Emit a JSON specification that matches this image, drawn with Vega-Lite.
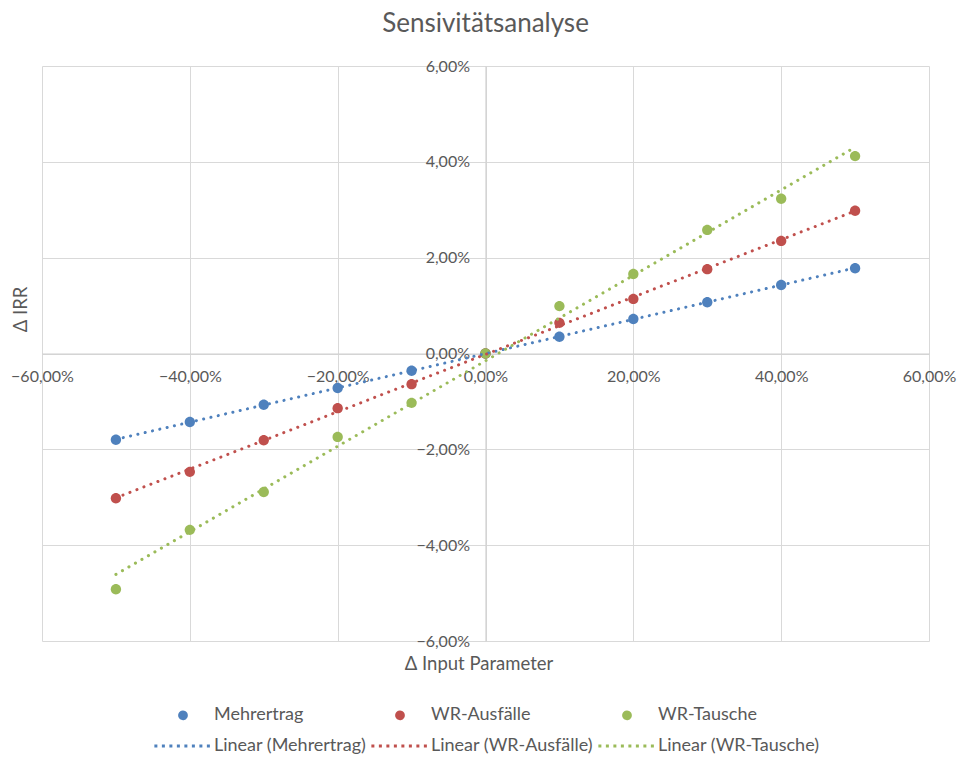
{
  "$schema": "https://vega.github.io/schema/vega-lite/v6.json",
  "width": 887,
  "height": 575,
  "autosize": {"type": "none"},
  "padding": {"left": 42, "top": 66, "right": 31, "bottom": 117},
  "background": "white",
  "title": {
    "text": "Sensivitätsanalyse",
    "font": "Lato",
    "fontSize": 26,
    "fontWeight": "normal",
    "color": "#595959",
    "anchor": "middle",
    "offset": 21
  },
  "config": {
    "locale": {
      "number": {"decimal": ",", "thousands": ".", "grouping": [3], "currency": ["", " €"]}
    },
    "view": {"stroke": null},
    "axis": {
      "grid": true,
      "gridColor": "#d9d9d9",
      "gridWidth": 1,
      "domainColor": "#d0d0d0",
      "domainWidth": 1.2,
      "ticks": false,
      "labelFont": "Lato",
      "labelFontSize": 16,
      "labelColor": "#595959",
      "labelFlush": false,
      "labelOverlap": false,
      "titleFont": "Lato",
      "titleFontSize": 18.5,
      "titleFontWeight": "normal",
      "titleColor": "#595959"
    },
    "legend": {
      "title": null,
      "orient": "none",
      "legendX": 132,
      "legendY": 640,
      "direction": "horizontal",
      "columns": 3,
      "symbolSize": 80,
      "symbolStrokeWidth": 3,
      "labelFont": "Lato",
      "labelFontSize": 18,
      "labelColor": "#595959",
      "labelOffset": 22,
      "labelLimit": 400,
      "columnPadding": -2,
      "rowPadding": 12,
      "symbolLimit": 0
    }
  },
  "data": {
    "values": [
      {"series": "Mehrertrag", "trend": "Linear (Mehrertrag)", "x": -0.5, "y": -0.0180},
      {"series": "Mehrertrag", "trend": "Linear (Mehrertrag)", "x": -0.4, "y": -0.0143},
      {"series": "Mehrertrag", "trend": "Linear (Mehrertrag)", "x": -0.3, "y": -0.0107},
      {"series": "Mehrertrag", "trend": "Linear (Mehrertrag)", "x": -0.2, "y": -0.0072},
      {"series": "Mehrertrag", "trend": "Linear (Mehrertrag)", "x": -0.1, "y": -0.0036},
      {"series": "Mehrertrag", "trend": "Linear (Mehrertrag)", "x": 0.0, "y": 0.0},
      {"series": "Mehrertrag", "trend": "Linear (Mehrertrag)", "x": 0.1, "y": 0.0035},
      {"series": "Mehrertrag", "trend": "Linear (Mehrertrag)", "x": 0.2, "y": 0.0072},
      {"series": "Mehrertrag", "trend": "Linear (Mehrertrag)", "x": 0.3, "y": 0.0107},
      {"series": "Mehrertrag", "trend": "Linear (Mehrertrag)", "x": 0.4, "y": 0.0143},
      {"series": "Mehrertrag", "trend": "Linear (Mehrertrag)", "x": 0.5, "y": 0.0178},
      {"series": "WR-Ausfälle", "trend": "Linear (WR-Ausfälle)", "x": -0.5, "y": -0.0302},
      {"series": "WR-Ausfälle", "trend": "Linear (WR-Ausfälle)", "x": -0.4, "y": -0.0247},
      {"series": "WR-Ausfälle", "trend": "Linear (WR-Ausfälle)", "x": -0.3, "y": -0.0181},
      {"series": "WR-Ausfälle", "trend": "Linear (WR-Ausfälle)", "x": -0.2, "y": -0.0114},
      {"series": "WR-Ausfälle", "trend": "Linear (WR-Ausfälle)", "x": -0.1, "y": -0.0064},
      {"series": "WR-Ausfälle", "trend": "Linear (WR-Ausfälle)", "x": 0.0, "y": 0.0},
      {"series": "WR-Ausfälle", "trend": "Linear (WR-Ausfälle)", "x": 0.1, "y": 0.0064},
      {"series": "WR-Ausfälle", "trend": "Linear (WR-Ausfälle)", "x": 0.2, "y": 0.0114},
      {"series": "WR-Ausfälle", "trend": "Linear (WR-Ausfälle)", "x": 0.3, "y": 0.0176},
      {"series": "WR-Ausfälle", "trend": "Linear (WR-Ausfälle)", "x": 0.4, "y": 0.0235},
      {"series": "WR-Ausfälle", "trend": "Linear (WR-Ausfälle)", "x": 0.5, "y": 0.0298},
      {"series": "WR-Tausche", "trend": "Linear (WR-Tausche)", "x": -0.5, "y": -0.0492},
      {"series": "WR-Tausche", "trend": "Linear (WR-Tausche)", "x": -0.4, "y": -0.0368},
      {"series": "WR-Tausche", "trend": "Linear (WR-Tausche)", "x": -0.3, "y": -0.0289},
      {"series": "WR-Tausche", "trend": "Linear (WR-Tausche)", "x": -0.2, "y": -0.0174},
      {"series": "WR-Tausche", "trend": "Linear (WR-Tausche)", "x": -0.1, "y": -0.0103},
      {"series": "WR-Tausche", "trend": "Linear (WR-Tausche)", "x": 0.0, "y": 0.0},
      {"series": "WR-Tausche", "trend": "Linear (WR-Tausche)", "x": 0.1, "y": 0.0099},
      {"series": "WR-Tausche", "trend": "Linear (WR-Tausche)", "x": 0.2, "y": 0.0166},
      {"series": "WR-Tausche", "trend": "Linear (WR-Tausche)", "x": 0.3, "y": 0.0258},
      {"series": "WR-Tausche", "trend": "Linear (WR-Tausche)", "x": 0.4, "y": 0.0323},
      {"series": "WR-Tausche", "trend": "Linear (WR-Tausche)", "x": 0.5, "y": 0.0412}
    ]
  },
  "layer": [
    {
      "mark": {"type": "point", "filled": true, "size": 190, "opacity": 1},
      "encoding": {
        "x": {
          "field": "x",
          "type": "quantitative",
          "scale": {"domain": [-0.6, 0.6], "nice": false, "zero": false},
          "axis": {
            "values": [-0.6, -0.4, -0.2, 0, 0.2, 0.4, 0.6],
            "format": ".2%",
            "offset": {"expr": "scale('y', 0) - height"},
            "labelPadding": 15,
            "title": "Δ Input Parameter",
            "titleX": {"expr": "width / 2 - 7"},
            "titleY": {"expr": "height - scale('y', 0) + 22"},
            "titleBaseline": "middle"
          }
        },
        "y": {
          "field": "y",
          "type": "quantitative",
          "scale": {"domain": [-0.06, 0.06], "nice": false, "zero": false},
          "axis": {
            "values": [-0.06, -0.04, -0.02, 0, 0.02, 0.04, 0.06],
            "format": ".2%",
            "offset": {"expr": "-scale('x', 0)"},
            "labelPadding": 16,
            "labelBaseline": "middle",
            "title": "Δ IRR",
            "titleAngle": 270,
            "titleX": {"expr": "-scale('x', 0) - 22"},
            "titleY": 243,
            "titleAlign": "center",
            "titleBaseline": "middle"
          }
        },
        "color": {
          "field": "series",
          "type": "nominal",
          "scale": {
            "domain": ["Mehrertrag", "WR-Ausfälle", "WR-Tausche", "Linear (Mehrertrag)", "Linear (WR-Ausfälle)", "Linear (WR-Tausche)"],
            "range": ["#4F81BD", "#C0504D", "#9BBB59", "#4F81BD", "#C0504D", "#9BBB59"]
          }
        },
        "shape": {
          "field": "series",
          "type": "nominal",
          "scale": {
            "domain": ["Mehrertrag", "WR-Ausfälle", "WR-Tausche", "Linear (Mehrertrag)", "Linear (WR-Ausfälle)", "Linear (WR-Tausche)"],
            "range": [
              "M-0.75,0A0.75,0.75,0,1,1,0.75,0A0.75,0.75,0,1,1,-0.75,0Z",
              "M-0.75,0A0.75,0.75,0,1,1,0.75,0A0.75,0.75,0,1,1,-0.75,0Z",
              "M-0.75,0A0.75,0.75,0,1,1,0.75,0A0.75,0.75,0,1,1,-0.75,0Z",
              "M-6.4,0L6.4,0",
              "M-6.4,0L6.4,0",
              "M-6.4,0L6.4,0"
            ]
          }
        },
        "strokeDash": {
          "field": "series",
          "type": "nominal",
          "scale": {
            "domain": ["Mehrertrag", "WR-Ausfälle", "WR-Tausche", "Linear (Mehrertrag)", "Linear (WR-Ausfälle)", "Linear (WR-Tausche)"],
            "range": [[1, 0], [1, 0], [1, 0], [3, 4.5], [3, 4.5], [3, 4.5]]
          }
        }
      }
    },
    {
      "transform": [
        {"regression": "y", "on": "x", "groupby": ["series", "trend"], "extent": [-0.5, 0.5]}
      ],
      "mark": {"type": "line", "strokeWidth": 3, "strokeDash": [0.1, 7.4], "strokeCap": "round"},
      "encoding": {
        "x": {"field": "x", "type": "quantitative"},
        "y": {"field": "y", "type": "quantitative"},
        "color": {"field": "trend", "type": "nominal"}
      }
    }
  ]
}
